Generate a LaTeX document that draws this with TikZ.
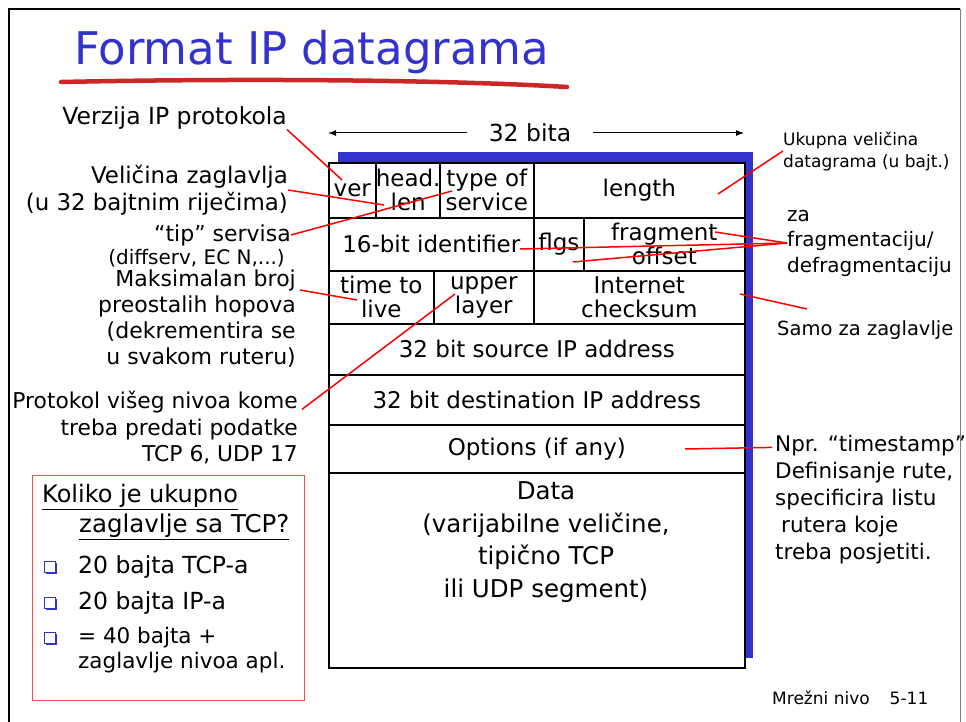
\documentclass[tikz,border=0pt]{standalone}
\usepackage{fontspec}
\setmainfont{DejaVu Sans}
\usepackage{tikz}
\usetikzlibrary{positioning,arrows.meta,shadows}
\definecolor{slideblue}{RGB}{51,51,204}
\definecolor{titlered}{RGB}{204,38,38}
\definecolor{boxred}{RGB}{255,70,70}

\begin{document}
\begin{tikzpicture}[
  x=1pt, y=-1pt,
  cell/.style={draw, fill=white, line width=1.6pt, anchor=north west, inner sep=0pt, align=center, font=\fontsize{23}{24}\selectfont},
  lbl/.style={inner sep=0pt, font=\fontsize{23.5}{26}\selectfont},
  smalllbl/.style={inner sep=0pt, font=\fontsize{17}{22}\selectfont},
  pointer/.style={red, line width=1.5pt},
  spanarrow/.style={-{Latex[length=8pt,width=6pt]}, line width=1pt},
  bullet/.style={draw=slideblue, fill=white, line width=1.2pt, minimum size=11pt, inner sep=0pt, drop shadow={shadow xshift=1.6pt, shadow yshift=-1.6pt, fill=slideblue, opacity=1}}
]
  \useasboundingbox (0,0) rectangle (966,722);

  % Slide frame and title
  \draw[line width=2.5pt] (9,730) -- (9,9) -- (960,9);
  \draw[gray, line width=1pt] (960,9) -- (960,730);
  \node[anchor=base west, inner sep=0pt, text=slideblue, font=\fontsize{45}{50}\selectfont] (title) at (74,65) {Format IP datagrama};
  \draw[titlered, line width=4.5pt, line cap=round] (61,82) .. controls (250,78) and (450,80) .. (567,87);

  % Width of a row
  \node[lbl, inner xsep=22pt] (bits) at (530,133) {32 bita};
  \coordinate (spanL) at (328,134);
  \coordinate (spanR) at (744,134);
  \draw[spanarrow] (bits.west) -- (spanL |- bits.west);
  \draw[spanarrow] (bits.east) -- (spanR |- bits.east);

  % Datagram fields
  \fill[slideblue] (338,152) rectangle (753,658);
  \node[cell, minimum width=47, minimum height=55] (ver) at (328,162) {ver};
  \node[cell, minimum width=64, minimum height=55] (hlen) at (375,162) {head.\\len};
  \node[cell, minimum width=94, minimum height=55] (tos) at (439,162) {type of\\service};
  \node[cell, minimum width=211, minimum height=55] (len) at (533,162) {length};

  \node[cell, minimum width=205, minimum height=53] (ident) at (328,217) {16-bit identifier};
  \node[cell, minimum width=50, minimum height=53] (flgs) at (533,217) {flgs};
  \node[cell, minimum width=161, minimum height=53] (frag) at (583,217) {fragment\\offset};

  \node[cell, minimum width=105, minimum height=53] (ttl) at (328,270) {time to\\live};
  \node[cell, minimum width=100, minimum height=53] (upper) at (433,270) {upper\\layer};
  \node[cell, minimum width=211, minimum height=53] (csum) at (533,270) {Internet\\checksum};

  \node[cell, minimum width=416, minimum height=51] (src) at (328,323) {32 bit source IP address};
  \node[cell, minimum width=416, minimum height=50] (dst) at (328,374) {32 bit destination IP address};
  \node[cell, minimum width=416, minimum height=48] (opts) at (328,424) {Options (if any)};
  \node[cell, minimum width=416, minimum height=195] (data) at (328,472) {};
  \node[lbl, align=center, font=\fontsize{24.5}{32.5}\selectfont] (datatxt) at (546,542) {Data\\(varijabilne veličine,\\tipično TCP\\ili UDP segment)};

  % Labels on the left
  \node[lbl, anchor=east] (verlbl) at (287,118) {Verzija IP protokola};
  \node[lbl, anchor=east, align=right, font=\fontsize{22.9}{27}\selectfont] (zaglbl) at (288,190) {Veličina zaglavlja\\(u 32 bajtnim riječima)};
  \node[lbl, anchor=east, font=\fontsize{22}{22}\selectfont] (tiplbl) at (291,235) {“tip” servisa};
  \node[lbl, anchor=east, font=\fontsize{20}{22}\selectfont] (tipsub) at (285,258) {(diffserv, EC N,...)};
  \node[lbl, anchor=east, align=right, font=\fontsize{22}{26}\selectfont] (ttllbl) at (296,319) {Maksimalan broj\\preostalih hopova\\(dekrementira se\\u svakom ruteru)};
  \node[lbl, anchor=east, align=right, font=\fontsize{21.8}{26.5}\selectfont] (protolbl) at (298,428) {Protokol višeg nivoa kome\\treba predati podatke\\TCP 6, UDP 17};

  % Labels on the right
  \node[smalllbl, anchor=west, align=left] (ukupnalbl) at (783,151) {Ukupna veličina\\datagrama (u bajt.)};
  \node[lbl, anchor=west, align=left, font=\fontsize{20}{25.5}\selectfont] (fraglbl) at (787,243) {za\\fragmentaciju/\\defragmentaciju};
  \node[lbl, anchor=west, font=\fontsize{19.5}{25}\selectfont] (csumlbl) at (777,330) {Samo za zaglavlje};
  \node[lbl, anchor=west, align=left, font=\fontsize{21.5}{27}\selectfont] (optlbl) at (775,500) {Npr. “timestamp”\\Definisanje rute,\\specificira listu\\\hspace{6pt}rutera koje\\treba posjetiti.};
  \node[smalllbl, anchor=west] (footer) at (772,698) {Mrežni nivo\hspace{20pt}5-11};

  % Question box
  \node[draw=boxred, line width=1pt, anchor=north west, minimum width=272, minimum height=225] (quiz) at (32,475) {};
  \node[lbl, anchor=west, font=\fontsize{24}{26}\selectfont] (q1) at (42,497) {\underline{Koliko je ukupno}};
  \node[lbl, anchor=west, font=\fontsize{24.5}{26}\selectfont] (q2) at (79,527) {\underline{zaglavlje sa TCP?}};
  \node[bullet] (b1) at (50,567) {};
  \node[bullet] (b2) at (50,603) {};
  \node[bullet] (b3) at (50,638) {};
  \node[lbl, anchor=west] (a1) at (78,567) {20 bajta TCP-a};
  \node[lbl, anchor=west] (a2) at (78,603) {20 bajta IP-a};
  \node[lbl, anchor=west, align=left, font=\fontsize{21.5}{24.5}\selectfont] (a3) at (78,650) {= 40 bajta +\\zaglavlje nivoa apl.};

  % Pointers
  \coordinate (verpt) at (342,180);
  \coordinate (hlenpt) at (384,205);
  \coordinate (tospt) at (452,191);
  \coordinate (ttlpt) at (357,300);
  \coordinate (upperpt) at (455,294);
  \coordinate (lenpt) at (718,194);
  \coordinate (fragpt) at (715,232);
  \coordinate (identpt) at (520,249);
  \coordinate (flgspt) at (573,262);
  \coordinate (csumpt) at (740,294);
  \coordinate (csumend) at (807,309);
  \coordinate (optpt) at (685,449);

  \draw[pointer] (verlbl.south east) -- (verpt);
  \draw[pointer] (zaglbl.east) -- (hlenpt);
  \draw[pointer] (tiplbl.east) -- (tospt);
  \draw[pointer] ([shift={(4,20)}]ttllbl.north east) -- (ttlpt);
  \draw[pointer] ([shift={(4,18)}]protolbl.north east) -- (upperpt);
  \draw[pointer] (lenpt) -- (ukupnalbl.west);
  \draw[pointer] (fraglbl.west) -- (fragpt);
  \draw[pointer] (fraglbl.west) -- (identpt);
  \draw[pointer] (fraglbl.west) -- (flgspt);
  \draw[pointer] (csumpt) -- (csumend);
  \draw[pointer] (optpt) -- ([shift={(-3,12)}]optlbl.north west);

\end{tikzpicture}
\end{document}
